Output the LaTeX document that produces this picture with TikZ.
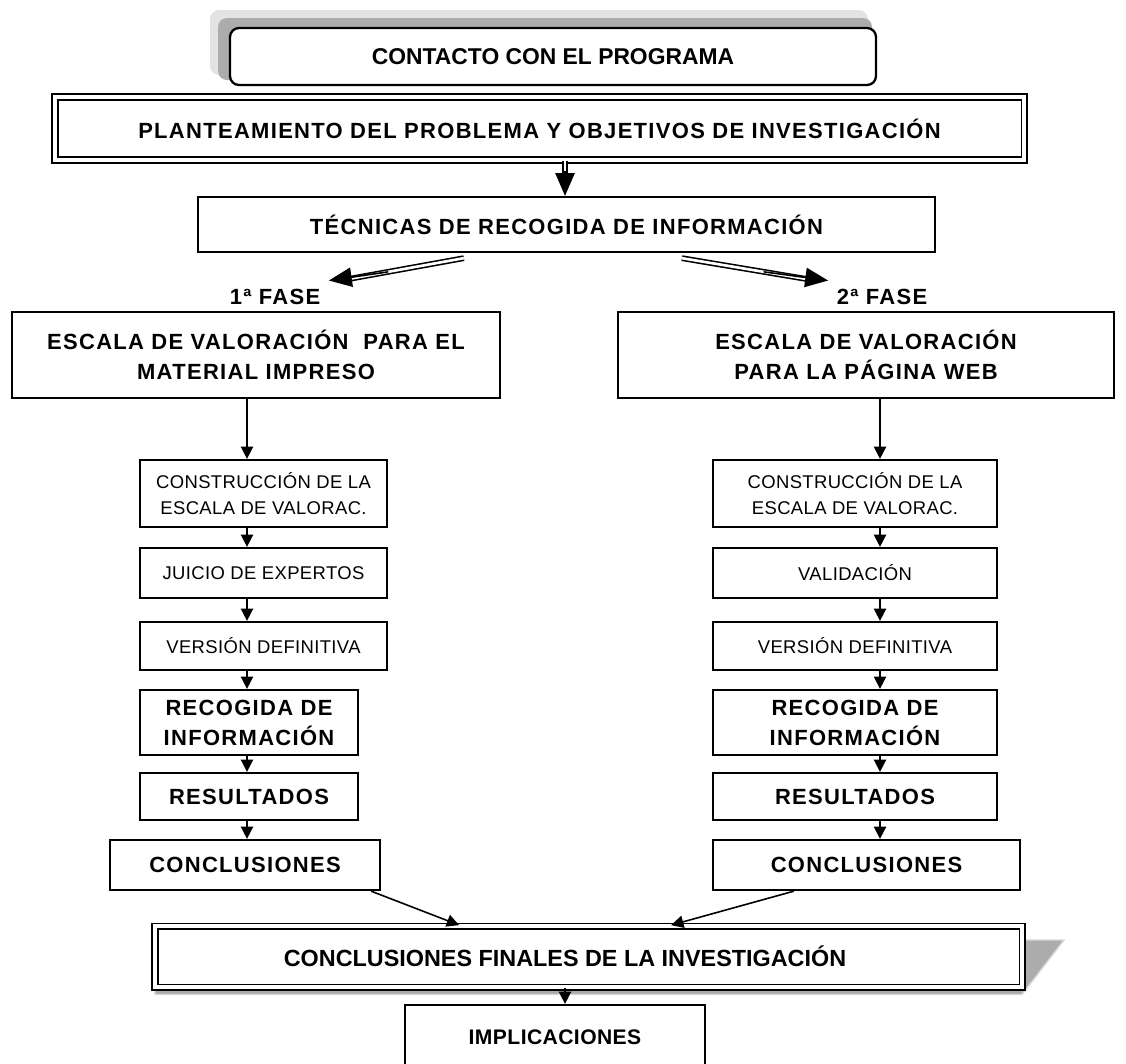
\documentclass[tikz,border=0pt]{standalone}
\usepackage{fontspec}
\setmainfont{Liberation Sans}
\newfontfamily\spacedfont[LetterSpace=6]{Liberation Sans}
\newfontfamily\lightfont[LetterSpace=2]{Liberation Sans}
\usetikzlibrary{arrows.meta,calc}

\begin{document}
\begin{tikzpicture}[
  title box/.style={draw, line width=1.3pt, align=center, inner sep=0pt,
    font=\spacedfont\bfseries\fontsize{12.5}{17}\selectfont},
  light box/.style={draw, line width=1.3pt, align=center, inner sep=0pt,
    font=\lightfont\fontsize{10.5}{15}\selectfont},
  twin box/.style={title box, line width=1pt, double=white, double distance=2pt},
  small tip/.style={line width=0.9pt, -{Triangle[length=7pt,width=7pt]}},
  twin line/.style={line width=0.9pt, double=white, double distance=1.5pt},
  big tip/.style={line width=0.9pt, -{Triangle[length=13pt,width=11pt]}}]

  \useasboundingbox (0,0) rectangle (22.52,-21.26);
  \clip (0,0) rectangle (22.52,-21.26);

  % top of the chart
  \fill[gray!22, rounded corners=0.18cm] (4.2,-0.2) rectangle (17.36,-1.5);
  \fill[gray!65, rounded corners=0.18cm] (4.36,-0.36) rectangle (17.44,-1.6);
  \node[draw, fill=white, rounded corners=0.18cm, line width=1.3pt, minimum width=12.92cm, minimum height=1.14cm,
    font=\bfseries\fontsize{13}{15}\selectfont] (contact) at (11.06,-1.13) {CONTACTO CON EL PROGRAMA};
  \node[twin box, minimum width=19.38cm, minimum height=1.26cm] (plan) at (10.79,-2.57)
    {PLANTEAMIENTO DEL PROBLEMA Y OBJETIVOS DE INVESTIGACIÓN};
  \node[title box, minimum width=14.74cm, minimum height=1.1cm] (tecn) at (11.33,-4.49)
    {TÉCNICAS DE RECOGIDA DE INFORMACIÓN};

  % the two phases
  \node[font=\spacedfont\bfseries\fontsize{12.5}{15}\selectfont] (fase1) at (5.5,-5.94) {1ª FASE};
  \node[font=\spacedfont\bfseries\fontsize{12.5}{15}\selectfont] (fase2) at (17.64,-5.94) {2ª FASE};
  \node[title box, minimum width=9.76cm, minimum height=1.72cm] (escI) at (5.12,-7.1)
    {ESCALA DE VALORACIÓN\ \ PARA EL\\MATERIAL IMPRESO};
  \node[title box, minimum width=9.92cm, minimum height=1.72cm] (escD) at (17.32,-7.1)
    {ESCALA DE VALORACIÓN\\PARA LA PÁGINA WEB};

  % left column
  \node[light box, minimum width=4.94cm, minimum height=1.34cm] (consI) at (5.27,-9.87)
    {CONSTRUCCIÓN DE LA\\ESCALA DE VALORAC.};
  \node[light box, minimum width=4.94cm, minimum height=1cm] (juicio) at (5.27,-11.46) {JUICIO DE EXPERTOS};
  \node[light box, minimum width=4.94cm, minimum height=0.96cm] (versI) at (5.27,-12.92) {VERSIÓN DEFINITIVA};
  \node[title box, minimum width=4.36cm, minimum height=1.3cm] (recogI) at (4.98,-14.45)
    {RECOGIDA DE\\INFORMACIÓN};
  \node[title box, minimum width=4.36cm, minimum height=0.94cm] (resulI) at (4.98,-15.93) {RESULTADOS};
  \node[title box, minimum width=5.4cm, minimum height=1cm] (conclI) at (4.9,-17.3) {CONCLUSIONES};

  % right column
  \node[light box, minimum width=5.68cm, minimum height=1.34cm] (consD) at (17.1,-9.87)
    {CONSTRUCCIÓN DE LA\\ESCALA DE VALORAC.};
  \node[light box, minimum width=5.68cm, minimum height=1cm] (valid) at (17.1,-11.46) {VALIDACIÓN};
  \node[light box, minimum width=5.68cm, minimum height=0.96cm] (versD) at (17.1,-12.92) {VERSIÓN DEFINITIVA};
  \node[title box, minimum width=5.68cm, minimum height=1.3cm] (recogD) at (17.1,-14.45)
    {RECOGIDA DE\\INFORMACIÓN};
  \node[title box, minimum width=5.68cm, minimum height=0.94cm] (resulD) at (17.1,-15.93) {RESULTADOS};
  \node[title box, minimum width=6.14cm, minimum height=1cm] (conclD) at (17.33,-17.3) {CONCLUSIONES};

  % bottom
  \fill[gray!65, draw=gray!30, line width=0.8pt] ($(11.77,-19.13)+(8.67,0.33)$) -- ++(0.84,0)
    -- ($(11.77,-19.13)+(8.67,-0.76)$) -- ($(11.77,-19.13)+(-8.67,-0.76)$) -- ++(0,0.2) -- cycle;
  \node[twin box, fill=white, minimum width=17.34cm, minimum height=1.22cm] (final) at (11.77,-19.13) {};
  \node[font=\bfseries\fontsize{13.3}{15}\selectfont] (finaltext) at ($(final.center)+(-0.47,0)$)
    {CONCLUSIONES FINALES DE LA INVESTIGACIÓN};
  \node[title box, minimum width=6cm, minimum height=1.3cm,
    font=\lightfont\bfseries\fontsize{12}{15}\selectfont] (impl) at (11.1,-20.75) {IMPLICACIONES};

  % column guides
  \coordinate (colI) at (4.94,0);
  \coordinate (colD) at (17.6,0);
  \coordinate (mid) at (11.3,0);

  % double arrows
  \draw[twin line] (plan.south -| mid) -- ($(tecn.north -| mid)+(0,0.3)$);
  \draw[big tip] ($(tecn.north -| mid)+(0,0.5)$) -- (tecn.north -| mid);
  \coordinate (forkL) at ($(tecn.south west)+(5.34,-0.1)$);
  \coordinate (forkR) at ($(tecn.south west)+(9.7,-0.1)$);
  \draw[twin line] (forkL) -- ($(forkL)!0.85!(fase1.north east)$);
  \draw[big tip] ($(forkL)!0.55!(fase1.north east)$) -- ($(fase1.north east)+(0.05,0.05)$);
  \draw[twin line] (forkR) -- ($(forkR)!0.85!(fase2.north west)$);
  \draw[big tip] ($(forkR)!0.55!(fase2.north west)$) -- ($(fase2.north west)+(-0.05,0.05)$);

  % single arrows down each column
  \foreach \a/\b in {escI/consI, consI/juicio, juicio/versI, versI/recogI, recogI/resulI, resulI/conclI}
    \draw[small tip] (\a.south -| colI) -- (\b.north -| colI);
  \foreach \a/\b in {escD/consD, consD/valid, valid/versD, versD/recogD, recogD/resulD, resulD/conclD}
    \draw[small tip] (\a.south -| colD) -- (\b.north -| colD);

  \draw[small tip] ($(conclI.south east)+(-0.2,0)$) -- ($(final.north west)+(6.1,0)$);
  \draw[small tip] ($(conclD.south west)+(1.64,0)$) -- ($(final.north west)+(10.34,0)$);
  \draw[small tip] (final.south -| mid) -- (impl.north -| mid);
\end{tikzpicture}
\end{document}
